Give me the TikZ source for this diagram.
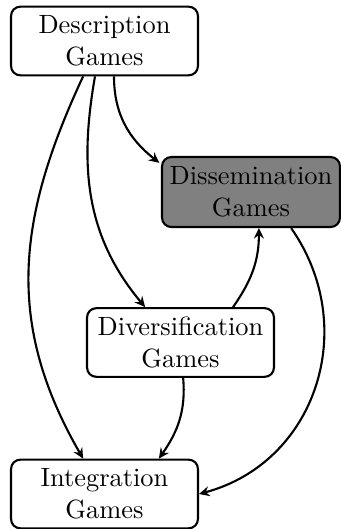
\documentclass[tikz,border=0pt]{standalone}
\usetikzlibrary{arrows.meta}
\begin{document}
\begin{tikzpicture}[x=0.3788pt,y=-0.3788pt,
  gbox/.style={draw, thick, rounded corners=3.5pt, align=center, minimum width=70.8pt, minimum height=26pt, inner sep=1pt},
  conn/.style={-{Stealth[length=4pt,width=3.8pt,inset=1.4pt]}, thick}]
\useasboundingbox (0,0) rectangle (341,529);
\node[gbox] (desc) at (104.5,41) {Description\\Games};
\node[gbox, fill=gray, minimum width=67.4pt, minimum height=26.5pt] (diss) at (251,192) {Dissemination\\Games};
\node[gbox] (div) at (180.5,342.5) {Diversification\\Games};
\node[gbox] (int) at (104.5,494) {Integration\\Games};
\draw[conn] ([xshift=3.6pt]desc.south) to[out=-90, in=142] ([xshift=-0.6pt,yshift=-2.6pt]diss.north west);
\draw[conn] ([xshift=-3.6pt]desc.south) to[out=-100, in=130] ([xshift=-13.4pt]div.north);
\draw[conn] ([xshift=-8.1pt]desc.south) to[out=-115, in=120, looseness=1.05] ([xshift=-8.1pt]int.north);
\draw[conn] ([xshift=19.9pt]div.north) to[out=55, in=-90] ([xshift=3pt]diss.south);
\draw[conn] ([xshift=1pt]div.south) to[out=-85, in=55] ([xshift=20.6pt]int.north);
\draw[conn] ([xshift=15.2pt]diss.south) to[out=-55, in=15, looseness=1.1] (int.east);
\end{tikzpicture}
\end{document}
